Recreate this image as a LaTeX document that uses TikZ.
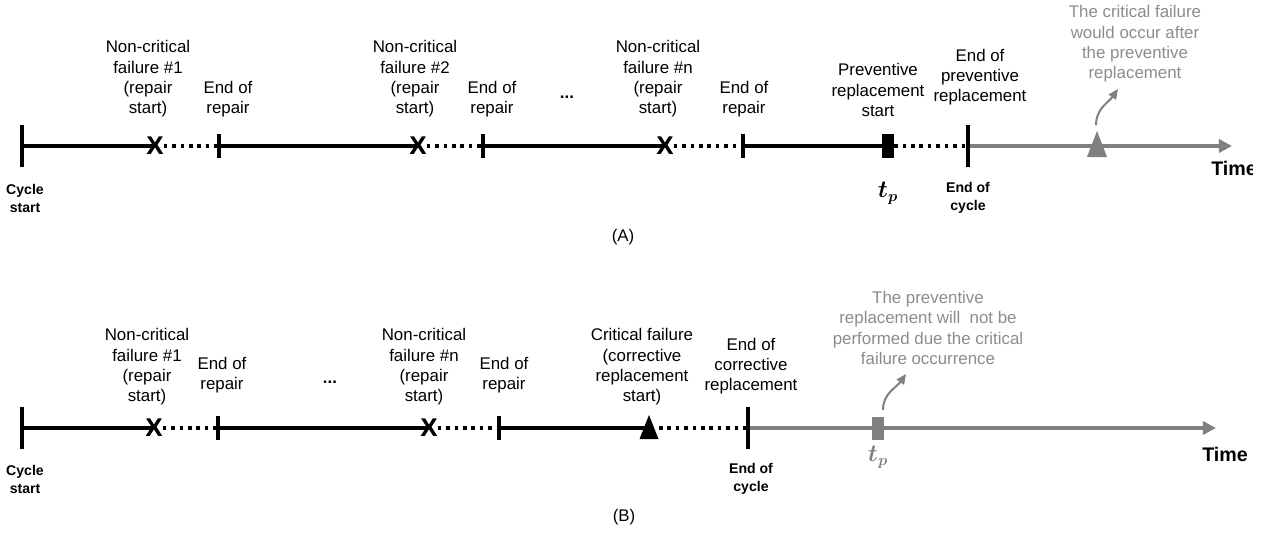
\documentclass[tikz,border=0pt]{standalone}
\usepackage{fontspec}
\setmainfont{Liberation Sans}
\usepackage{amsmath, amssymb}
\usetikzlibrary{arrows.meta}

\definecolor{axisgray}{RGB}{128,128,128}
\definecolor{notegray}{RGB}{140,140,140}

\tikzset{
    lbl/.style={align=center, inner sep=0, font=\fontsize{12}{14.4}\selectfont},
    cyclbl/.style={align=center, inner sep=0, font=\bfseries\fontsize{10}{12.8}\selectfont},
    note/.style={lbl, text=notegray},
    solidseg/.style={line width=0.1cm},
    dotseg/.style={line width=0.1cm, dash pattern=on 0.09cm off 0.12cm},
    futureseg/.style={line width=0.1cm, axisgray, -{Triangle[length=0.33cm, width=0.33cm]}},
    bigtick/.style={fill=black, inner sep=0, minimum width=0.1cm, minimum height=1.03cm},
    smalltick/.style={fill=black, inner sep=0, minimum width=0.1cm, minimum height=0.62cm},
    failx/.style={inner sep=0, font=\bfseries\fontsize{18}{18}\selectfont},
    tpmark/.style={inner sep=0, minimum width=0.3cm, minimum height=0.6cm},
    pointer/.style={line width=0.05cm, axisgray, -{Triangle[length=0.25cm, width=0.22cm]}},
}

\begin{document}
\begin{tikzpicture}[x=0.025cm, y=-0.025cm]
    \useasboundingbox (0,0) rectangle (1272,533);

    % (A) preventive replacement ends the cycle
    \node[bigtick] (startA) at (22,146) {};
    \node[failx] (x1A) at (155,146) {X};
    \node[smalltick] (r1A) at (219,146) {};
    \node[failx] (x2A) at (418,146) {X};
    \node[smalltick] (r2A) at (483,146) {};
    \node[failx] (xnA) at (665,146) {X};
    \node[smalltick] (rnA) at (743,146) {};
    \node[tpmark, fill=black] (tpA) at (888,146) {};
    \node[bigtick] (endA) at (968,146) {};
    \coordinate (timeA) at (1232,146);

    \draw[solidseg] (startA) -- (x1A.center);
    \draw[dotseg] (x1A.east) -- (r1A);
    \draw[solidseg] (r1A) -- (x2A.center);
    \draw[dotseg] (x2A.east) -- (r2A);
    \draw[solidseg] (r2A) -- (xnA.center);
    \draw[dotseg] (xnA.east) -- (rnA);
    \draw[solidseg] (rnA) -- (tpA);
    \draw[dotseg] (tpA) -- (endA);
    \draw[futureseg] (endA) -- (timeA);
    % redraw the marks on top of the lines
    \node[failx] at (x1A) {X};
    \node[failx] at (x2A) {X};
    \node[failx] at (xnA) {X};

    \fill[axisgray] (1087,157) -- (1107,157) -- (1097,131) -- cycle;
    \coordinate (critA) at (1096,125);
    \coordinate (noteTipA) at (1118,89);
    \draw[pointer] (critA) to[out=90, in=-125] (noteTipA);

    \node[lbl] (nc1A) at (148,79) {Non-critical\\failure \#1\\(repair\\start)};
    \node[lbl] (er1A) at (228,99) {End of\\repair};
    \node[lbl] (nc2A) at (415,79) {Non-critical\\failure \#2\\(repair\\start)};
    \node[lbl] (er2A) at (492,99) {End of\\repair};
    \node[lbl, font=\bfseries\fontsize{12}{14.4}\selectfont] (dotsA) at (567,97) {...};
    \node[lbl] (ncnA) at (658,79) {Non-critical\\failure \#n\\(repair\\start)};
    \node[lbl] (ernA) at (744,99) {End of\\repair};
    \node[lbl] (prevA) at (878,90) {Preventive\\replacement\\start};
    \node[lbl] (eopA) at (980,77) {End of\\preventive\\replacement};
    \node[note] (noteA) at (1135,44) {The critical failure\\would occur after\\the preventive\\replacement};

    \node[cyclbl] (cysA) at (25,198) {Cycle\\start};
    \node[cyclbl] (eocA) at (968,198) {End of\\cycle};
    \node[inner sep=0, font=\fontsize{16}{16}\selectfont] (tplA) at (888,193) {$\boldsymbol{t_p}$};
    \begin{scope}
        \clip (1190,150) rectangle (1252,190);
        \node[anchor=west, inner sep=0, font=\bfseries\fontsize{14}{14}\selectfont] (timelA) at (1211,168) {Time};
    \end{scope}
    \node[lbl] (capA) at (623,237) {(A)};

    % (B) critical failure ends the cycle
    \node[bigtick] (startB) at (22,428) {};
    \node[failx] (x1B) at (154,428) {X};
    \node[smalltick] (r1B) at (218,428) {};
    \node[failx] (xnB) at (429,428) {X};
    \node[smalltick] (rnB) at (499,428) {};
    \coordinate (critB) at (649,428);
    \node[bigtick] (endB) at (748,428) {};
    \coordinate (timeB) at (1216,428);

    \draw[solidseg] (startB) -- (x1B.center);
    \draw[dotseg] (x1B.east) -- (r1B);
    \draw[solidseg] (r1B) -- (xnB.center);
    \draw[dotseg] (xnB.east) -- (rnB);
    \draw[solidseg] (rnB) -- (critB);
    \draw[dotseg] (critB) ++(10,0) -- (endB);
    \draw[futureseg] (endB) -- (timeB);
    \node[tpmark, fill=axisgray, minimum height=0.58cm] (tpB) at (878,428.5) {};
    \node[failx] at (x1B) {X};
    \node[failx] at (xnB) {X};
    \fill (639.5,439) -- (658.5,439) -- (649,415) -- cycle;

    \coordinate (tpTopB) at (883,410);
    \coordinate (noteTipB) at (906,374);
    \draw[pointer] (tpTopB) to[out=90, in=-125] (noteTipB);

    \node[lbl] (nc1B) at (147,367) {Non-critical\\failure \#1\\(repair\\start)};
    \node[lbl] (er1B) at (222,375) {End of\\repair};
    \node[lbl, font=\bfseries\fontsize{12}{14.4}\selectfont] (dotsB) at (330,382) {...};
    \node[lbl] (ncnB) at (424,367) {Non-critical\\failure \#n\\(repair\\start)};
    \node[lbl] (ernB) at (504,375) {End of\\repair};
    \node[lbl] (critlB) at (642,367) {Critical failure\\(corrective\\replacement\\start)};
    \node[lbl] (eocrB) at (751,366) {End of\\corrective\\replacement};
    \node[note] (noteB) at (928,328) {The preventive\\replacement will\ \ not be\\performed due the critical\\failure occurrence};

    \node[cyclbl] (cysB) at (25,479) {Cycle\\start};
    \node[cyclbl] (eocB) at (751,479) {End of\\cycle};
    \node[inner sep=0, font=\fontsize{16}{16}\selectfont, text=axisgray] (tplB) at (878,457) {$\boldsymbol{t_p}$};
    \node[anchor=west, inner sep=0, font=\bfseries\fontsize{14}{14}\selectfont] (timelB) at (1202,454) {Time};
    \node[lbl] (capB) at (624,517) {(B)};
\end{tikzpicture}
\end{document}
